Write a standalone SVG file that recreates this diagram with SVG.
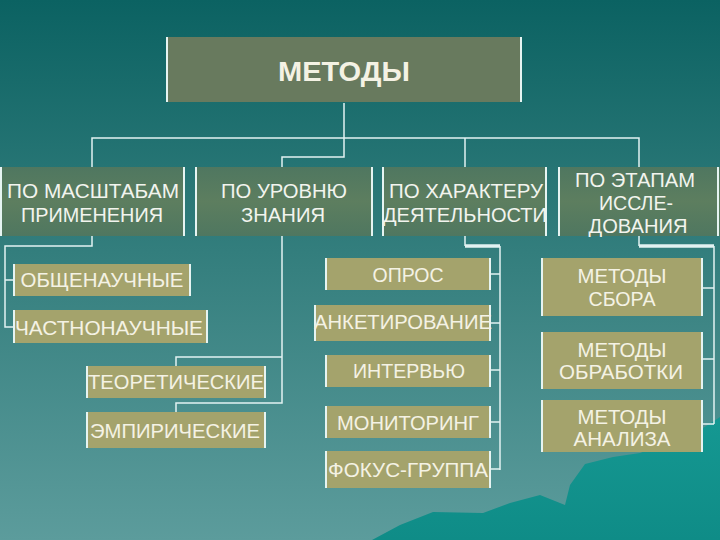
<svg xmlns="http://www.w3.org/2000/svg" width="720" height="540" viewBox="0 0 720 540">
<defs>
<linearGradient id="bg" x1="0" y1="0" x2="0" y2="1">
<stop offset="0" stop-color="#0b6262"/>
<stop offset="0.5" stop-color="#36807f"/>
<stop offset="1" stop-color="#5c9c9c"/>
</linearGradient>
<linearGradient id="sea" x1="0" y1="0" x2="0" y2="1">
<stop offset="0" stop-color="#159892"/>
<stop offset="1" stop-color="#0f8c87"/>
</linearGradient>
<linearGradient id="mid" x1="0" y1="0" x2="0" y2="1">
<stop offset="0" stop-color="#4f7760"/>
<stop offset="0.5" stop-color="#5d7e5f"/>
<stop offset="1" stop-color="#4f7760"/>
</linearGradient>
</defs>
<style>
.top{fill:#687a5e}
.mid{fill:url(#mid)}
.low{fill:#a4a36c}
.edge{stroke:#e6f4f2;stroke-width:2;fill:none}
.con{stroke:#e2f2f2;stroke-width:1.5;fill:none}
.thick{stroke:#e2f2f2;stroke-width:3.5;fill:none}
text{font-family:"Liberation Sans",Arial,sans-serif;fill:#f4f2e4;text-anchor:middle}
.t2{font-size:20px;fill:#f2f4ee}
.t3{font-size:19.5px}
.t1{font-size:27px;font-weight:bold}
</style>
<rect width="720" height="540" fill="url(#bg)"/>
<polygon fill="url(#sea)" points="372,540 400,525 433,512 483,513 510,503 540,495 565,505 570,485 585,464 613,457 640,453 700,430 720,417 720,540"/>

<g id="connectors">
<path class="con" d="M344,103 V157 H282 V167"/>
<path class="con" d="M92,167 V138 H639 V167"/>
<path class="con" d="M465,138 V167"/>
<path class="con" d="M92,236 V246 H5 V327 H14 M5,280 H14"/>
<path class="con" d="M282,236 V403 H176 V412 M282,357 H176 V366"/>
<path class="con" d="M465,236 V246"/>
<path class="thick" d="M465,246 H500"/>
<path class="con" d="M500,246 V470 M490,274 H500 M490,323 H500 M490,370 H500 M490,422 H500 M490,469 H500"/>
<path class="con" d="M639,236 V246"/>
<path class="thick" d="M639,246 H714"/>
<path class="con" d="M714,246 V424 M702,288 H714 M702,359 H714 M702,424 H714"/>
</g>

<g id="n-root">
<rect class="top" x="167" y="37" width="355" height="65"/>
<path class="edge" d="M167,37 V102 M521,37 V102"/>
<text class="t1" x="344" y="81" textLength="132" lengthAdjust="spacingAndGlyphs">МЕТОДЫ</text>
</g>

<g id="n-scale">
<rect class="mid" x="1" y="167" width="183" height="69"/>
<path class="edge" d="M1,167 V236 M184,167 V236"/>
<text class="t2" x="93" y="198" textLength="172" lengthAdjust="spacingAndGlyphs">ПО МАСШТАБАМ</text>
<text class="t2" x="92" y="222" textLength="142" lengthAdjust="spacingAndGlyphs">ПРИМЕНЕНИЯ</text>
</g>
<g id="n-level">
<rect class="mid" x="196" y="167" width="176" height="69"/>
<path class="edge" d="M196,167 V236 M372,167 V236"/>
<text class="t2" x="284" y="198" textLength="126" lengthAdjust="spacingAndGlyphs">ПО УРОВНЮ</text>
<text class="t2" x="283" y="222" textLength="84" lengthAdjust="spacingAndGlyphs">ЗНАНИЯ</text>
</g>
<g id="n-activity">
<rect class="mid" x="383" y="167" width="163" height="69"/>
<path class="edge" d="M383,167 V236 M546,167 V236"/>
<text class="t2" x="466" y="198" textLength="154" lengthAdjust="spacingAndGlyphs">ПО ХАРАКТЕРУ</text>
<text class="t2" x="465" y="222" textLength="164" lengthAdjust="spacingAndGlyphs">ДЕЯТЕЛЬНОСТИ</text>
</g>
<g id="n-stages">
<rect class="mid" x="559" y="167" width="161" height="69"/>
<path class="edge" d="M559,167 V236 M718,167 V236"/>
<text class="t2" x="635" y="187" textLength="120" lengthAdjust="spacingAndGlyphs">ПО ЭТАПАМ</text>
<text class="t2" x="636" y="210" textLength="74" lengthAdjust="spacingAndGlyphs">ИССЛЕ-</text>
<text class="t2" x="638" y="233" textLength="99" lengthAdjust="spacingAndGlyphs">ДОВАНИЯ</text>
</g>

<g id="n-general">
<rect class="low" x="14" y="264" width="176" height="32"/>
<path class="edge" d="M14,264 V296 M190,264 V296"/>
<text class="t3" x="102" y="287" textLength="163" lengthAdjust="spacingAndGlyphs">ОБЩЕНАУЧНЫЕ</text>
</g>
<g id="n-specific">
<rect class="low" x="14" y="310" width="193" height="33"/>
<path class="edge" d="M14,310 V343 M207,310 V343"/>
<text class="t3" x="109" y="335" textLength="188" lengthAdjust="spacingAndGlyphs">ЧАСТНОНАУЧНЫЕ</text>
</g>
<g id="n-theor">
<rect class="low" x="87" y="366" width="178" height="32"/>
<path class="edge" d="M87,366 V398 M265,366 V398"/>
<text class="t3" x="176" y="389" textLength="176" lengthAdjust="spacingAndGlyphs">ТЕОРЕТИЧЕСКИЕ</text>
</g>
<g id="n-empir">
<rect class="low" x="87" y="412" width="178" height="36"/>
<path class="edge" d="M87,412 V448 M265,412 V448"/>
<text class="t3" x="175" y="438" textLength="170" lengthAdjust="spacingAndGlyphs">ЭМПИРИЧЕСКИЕ</text>
</g>

<g id="n-survey">
<rect class="low" x="326" y="258" width="164" height="32"/>
<path class="edge" d="M326,258 V290 M490,258 V290"/>
<text class="t3" x="408" y="282" textLength="71" lengthAdjust="spacingAndGlyphs">ОПРОС</text>
</g>
<g id="n-question">
<rect class="low" x="315" y="305" width="175" height="36"/>
<path class="edge" d="M315,305 V341 M490,305 V341"/>
<text class="t3" x="403" y="329" textLength="178" lengthAdjust="spacingAndGlyphs">АНКЕТИРОВАНИЕ</text>
</g>
<g id="n-interview">
<rect class="low" x="326" y="355" width="164" height="32"/>
<path class="edge" d="M326,355 V387 M490,355 V387"/>
<text class="t3" x="409" y="378" textLength="112" lengthAdjust="spacingAndGlyphs">ИНТЕРВЬЮ</text>
</g>
<g id="n-monitor">
<rect class="low" x="326" y="406" width="164" height="32"/>
<path class="edge" d="M326,406 V438 M490,406 V438"/>
<text class="t3" x="408" y="430" textLength="142" lengthAdjust="spacingAndGlyphs">МОНИТОРИНГ</text>
</g>
<g id="n-focus">
<rect class="low" x="326" y="451" width="164" height="37"/>
<path class="edge" d="M326,451 V488 M490,451 V488"/>
<text class="t3" x="408" y="477" textLength="160" lengthAdjust="spacingAndGlyphs">ФОКУС-ГРУППА</text>
</g>

<g id="n-collect">
<rect class="low" x="542" y="258" width="160" height="58"/>
<path class="edge" d="M542,258 V316 M702,258 V316"/>
<text class="t3" x="622" y="283" textLength="89" lengthAdjust="spacingAndGlyphs">МЕТОДЫ</text>
<text class="t3" x="622" y="306" textLength="67" lengthAdjust="spacingAndGlyphs">СБОРА</text>
</g>
<g id="n-process">
<rect class="low" x="542" y="332" width="160" height="57"/>
<path class="edge" d="M542,332 V389 M702,332 V389"/>
<text class="t3" x="622" y="357" textLength="89" lengthAdjust="spacingAndGlyphs">МЕТОДЫ</text>
<text class="t3" x="621" y="379" textLength="124" lengthAdjust="spacingAndGlyphs">ОБРАБОТКИ</text>
</g>
<g id="n-analysis">
<rect class="low" x="542" y="400" width="160" height="52"/>
<path class="edge" d="M542,400 V452 M702,400 V452"/>
<text class="t3" x="622" y="424" textLength="89" lengthAdjust="spacingAndGlyphs">МЕТОДЫ</text>
<text class="t3" x="622" y="446" textLength="97" lengthAdjust="spacingAndGlyphs">АНАЛИЗА</text>
</g>
</svg>
